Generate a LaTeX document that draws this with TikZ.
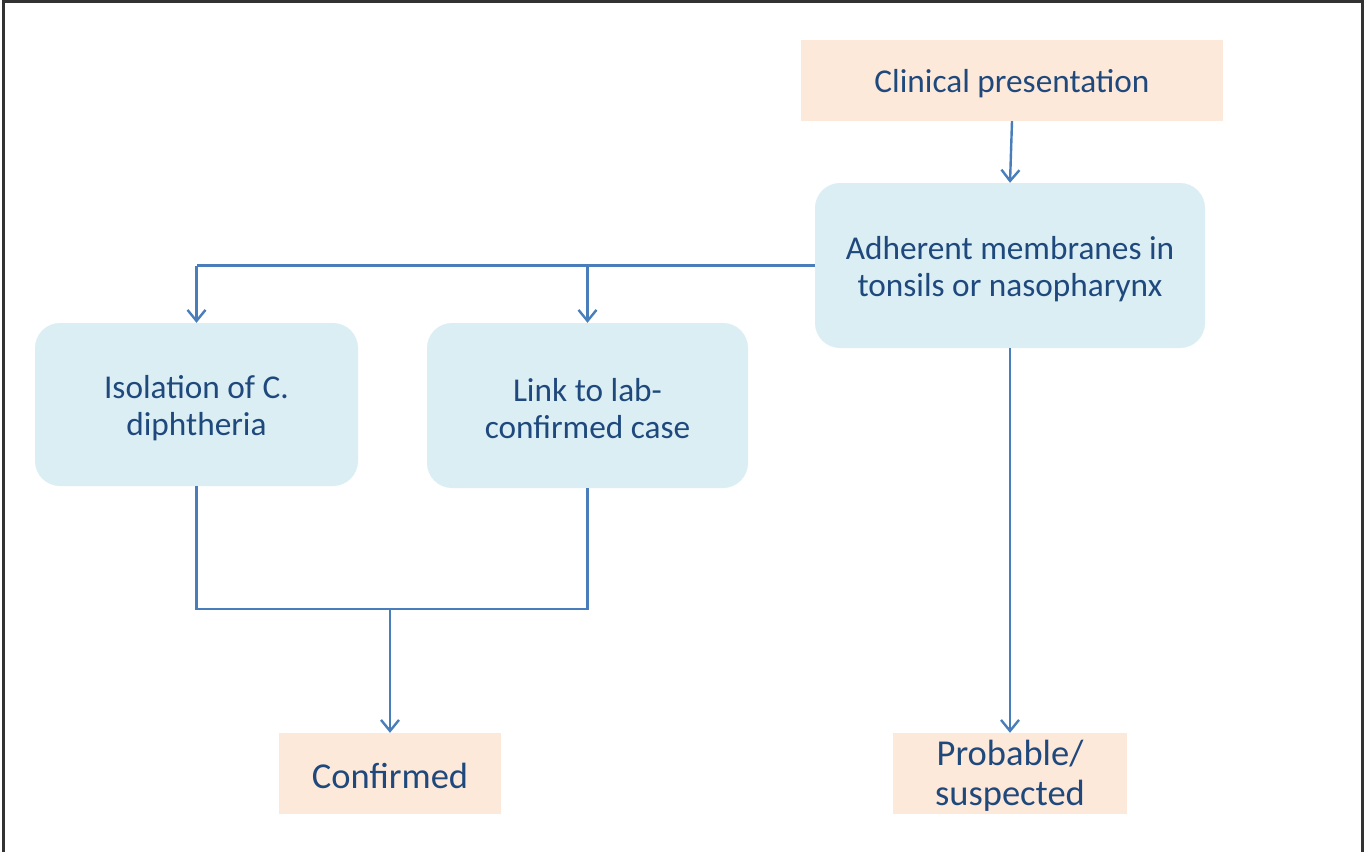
\documentclass[tikz,border=0pt]{standalone}
\usepackage{fontspec}
\setmainfont{Carlito}
\usetikzlibrary{arrows.meta}
\definecolor{txtblue}{HTML}{1F497D}
\definecolor{arrblue}{HTML}{4A7EBB}
\definecolor{peach}{HTML}{FDE9D9}
\definecolor{lightblue}{HTML}{DBEEF3}
\definecolor{frame}{HTML}{333333}
\tikzset{
  peachbox/.style={fill=peach, draw=none, inner sep=0pt},
  bluebox/.style={fill=lightblue, draw=none, rounded corners=25pt, inner sep=0pt},
  midtxt/.style={label={[text=txtblue, align=center, inner sep=0pt, font=\fontsize{33.3}{37}\selectfont, yshift=-3.5pt]center:{#1}}},
  bigtxt/.style={label={[text=txtblue, align=center, inner sep=0pt, font=\fontsize{36.5}{40}\selectfont, yshift=-2.5pt]center:{#1}}},
  conn/.style={draw=arrblue, line width=2.4pt},
  arr/.style={conn, -{Straight Barb[length=11pt,width=18pt,line width=2.4pt]}}
}
\begin{document}
\begin{tikzpicture}[x=1pt,y=-1pt]
\useasboundingbox (0,0) rectangle (1370,852);
\fill[white] (0,0) rectangle (1370,852);
\draw[frame, line width=3pt] (3,852) -- (3,1) -- (1362,1) -- (1362,852);

\node[peachbox, minimum width=422pt, minimum height=81pt, midtxt={Clinical presentation}] (clin) at (1012,80.5) {};
\node[bluebox, minimum width=390pt, minimum height=165pt, midtxt={Adherent membranes in\\tonsils or nasopharynx}] (adh) at (1010,265.5) {};
\node[bluebox, minimum width=323pt, minimum height=163pt, midtxt={Isolation of C.\\diphtheria}] (iso) at (196.5,404.5) {};
\node[bluebox, minimum width=321pt, minimum height=165pt, midtxt={Link to lab-\\confirmed case}] (link) at (587.5,405.5) {};
\node[peachbox, minimum width=222pt, minimum height=81pt, bigtxt={Confirmed}] (conf) at (390,773.5) {};
\node[peachbox, minimum width=234pt, minimum height=81pt, bigtxt={Probable/\\suspected}] (prob) at (1010,773.5) {};

\coordinate (j) at (390,609);

\draw[arr] (clin.south) -- (adh.north);
\draw[conn] (adh.west) -- (iso.north |- adh.west);
\draw[arr] (iso.north |- adh.west) -- (iso.north);
\draw[arr] (link.north |- adh.west) -- (link.north);
\draw[conn] (iso.south) |- (link.south |- j) -- (link.south);
\draw[arr] (j) -- (conf.north);
\draw[arr] (adh.south) -- (prob.north);
\end{tikzpicture}
\end{document}
